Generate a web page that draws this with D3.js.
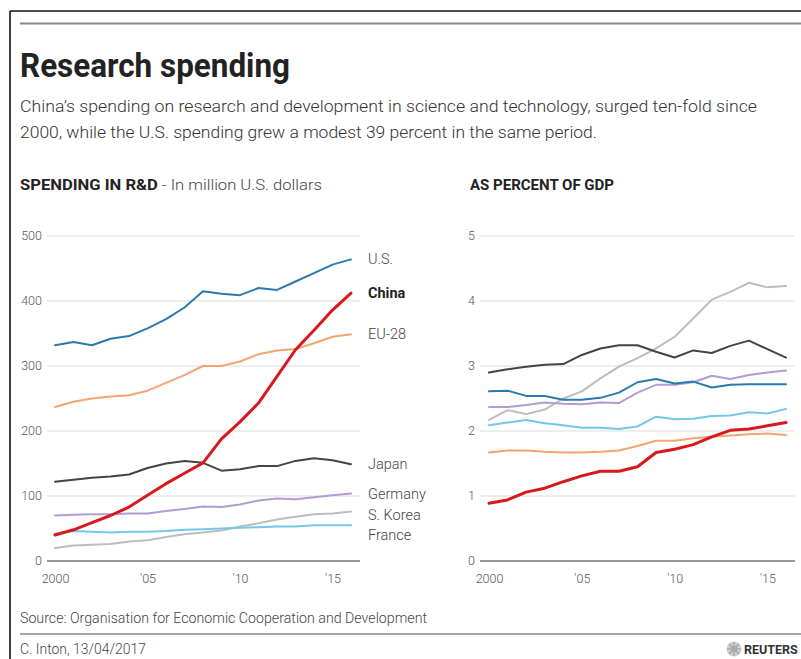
<!DOCTYPE html>
<html><head><meta charset="utf-8">
<script src="https://cdn.jsdelivr.net/npm/d3@7/dist/d3.min.js"></script>
<style>
html,body{margin:0;padding:0;background:#fff;}
svg{display:block;font-family:Roboto,"Open Sans",sans-serif;}
</style></head>
<body><svg id="c" width="801" height="659"></svg>
<script>
const years = [2000,2001,2002,2003,2004,2005,2006,2007,2008,2009,2010,2011,2012,2013,2014,2015,2016];
const tickYears = [2000,2005,2010,2015];
const tickYearLabels = ["2000","'05","'10","'15"];
const spendTicks = [0,100,200,300,400,500];
const gdpTicks = [0,1,2,3,4,5];
const seriesNames = ["S. Korea","France","Germany","Japan","EU-28","U.S.","China"];
const seriesColors = ["#bdbdbd","#74c6ea","#b39bd6","#444444","#f4a472","#2a7aab","#d7191c"];

// spending, million U.S. dollars
const spendSKorea = [20,24,25,26,30,32,37,41,44,47,53,58,64,68,72,73,76];
const spendFrance = [42,46,45,44,45,45,46,48,49,50,51,52,53,53,55,55,55];
const spendGermany = [70,71,72,72,73,73,77,80,84,83,87,93,96,95,98,101,104];
const spendJapan = [122,125,128,130,133,143,150,154,151,139,141,146,146,154,158,155,149];
const spendEU = [237,245,250,253,255,262,274,286,300,300,307,318,324,326,335,345,349];
const spendUS = [332,337,332,342,346,358,372,390,415,411,409,420,417,430,443,456,464];
const spendChina = [40,48,59,70,83,101,119,135,151,188,214,243,284,325,355,386,412];

// as percent of GDP
const gdpSKorea = [2.17,2.32,2.26,2.33,2.50,2.61,2.81,2.99,3.12,3.27,3.45,3.73,4.02,4.14,4.28,4.21,4.23];
const gdpFrance = [2.09,2.13,2.17,2.12,2.09,2.05,2.05,2.03,2.07,2.22,2.18,2.19,2.23,2.24,2.29,2.27,2.34];
const gdpGermany = [2.37,2.37,2.40,2.44,2.42,2.41,2.44,2.43,2.59,2.71,2.71,2.75,2.85,2.80,2.86,2.90,2.93];
const gdpJapan = [2.90,2.95,2.99,3.02,3.03,3.17,3.27,3.32,3.32,3.22,3.13,3.24,3.20,3.31,3.39,3.26,3.13];
const gdpEU = [1.67,1.70,1.70,1.68,1.67,1.67,1.68,1.70,1.77,1.85,1.85,1.89,1.91,1.93,1.95,1.96,1.94];
const gdpUS = [2.61,2.62,2.54,2.54,2.48,2.48,2.51,2.59,2.75,2.80,2.73,2.76,2.67,2.71,2.72,2.72,2.72];
const gdpChina = [0.89,0.94,1.06,1.12,1.22,1.31,1.38,1.38,1.45,1.67,1.72,1.79,1.91,2.01,2.03,2.08,2.13];

// series labels on the left chart, with their label values
const labelNames = ["U.S.","China","EU-28","Japan","Germany","S. Korea","France"];
const labelValues = [464,412,349,149,103,71,40];

const spendSeries = [spendSKorea,spendFrance,spendGermany,spendJapan,spendEU,spendUS,spendChina];
const gdpSeries = [gdpSKorea,gdpFrance,gdpGermany,gdpJapan,gdpEU,gdpUS,gdpChina];

const svg = d3.select("#c");

// frame
svg.append("line").attr("x1",10).attr("x2",801).attr("y1",11).attr("y2",11).attr("stroke","#111").attr("stroke-width",1.6);
svg.append("line").attr("x1",10).attr("x2",10).attr("y1",11).attr("y2",659).attr("stroke","#111").attr("stroke-width",1.6);
svg.append("line").attr("x1",20).attr("x2",801).attr("y1",23.5).attr("y2",23.5).attr("stroke","#8a8a8a").attr("stroke-width",2);
svg.append("line").attr("x1",20).attr("x2",801).attr("y1",634).attr("y2",634).attr("stroke","#8a8a8a").attr("stroke-width",1.6);

// titles
svg.append("text").attr("x",20).attr("y",77).attr("font-size",33).attr("font-weight",700).attr("fill","#222")
  .attr("textLength",270).attr("lengthAdjust","spacingAndGlyphs").text("Research spending");
svg.append("text").attr("x",20).attr("y",112).attr("font-size",17).attr("font-weight",300).attr("fill","#333")
  .attr("textLength",737).attr("lengthAdjust","spacingAndGlyphs")
  .text("China’s spending on research and development in science and technology, surged ten-fold since");
svg.append("text").attr("x",20).attr("y",138).attr("font-size",17).attr("font-weight",300).attr("fill","#333")
  .attr("textLength",577).attr("lengthAdjust","spacingAndGlyphs")
  .text("2000, while the U.S. spending grew a modest 39 percent in the same period.");

const h1 = svg.append("text").attr("x",20).attr("y",190).attr("font-size",14.5).attr("fill","#222")
  .attr("textLength",302).attr("lengthAdjust","spacingAndGlyphs");
h1.append("tspan").attr("font-weight",700).text("SPENDING IN R&D");
h1.append("tspan").attr("font-weight",300).attr("fill","#444").text(" - In million U.S. dollars");
svg.append("text").attr("x",470).attr("y",190).attr("font-size",14.5).attr("font-weight",700).attr("fill","#222")
  .attr("textLength",144).attr("lengthAdjust","spacingAndGlyphs").text("AS PERCENT OF GDP");

// footer
svg.append("text").attr("x",20).attr("y",623).attr("font-size",14.5).attr("font-weight",300).attr("fill","#444")
  .attr("textLength",407).attr("lengthAdjust","spacingAndGlyphs")
  .text("Source: Organisation for Economic Cooperation and Development");
svg.append("text").attr("x",20).attr("y",654).attr("font-size",14.5).attr("font-weight",300).attr("fill","#444")
  .attr("textLength",126).attr("lengthAdjust","spacingAndGlyphs").text("C. Inton, 13/04/2017");
// reuters logo
const logo = svg.append("g").attr("transform","translate(734,649)");
logo.append("circle").attr("r",7.5).attr("fill","#cfcfcf");
[0,45,90,135].forEach(a=>{
  logo.append("line").attr("x1",-7).attr("x2",7).attr("y1",0).attr("y2",0)
    .attr("transform","rotate("+a+")").attr("stroke","#999").attr("stroke-width",1);
});
logo.append("circle").attr("r",3).attr("fill","#aaa");
svg.append("text").attr("x",744).attr("y",654).attr("font-size",12.5).attr("font-weight",700).attr("fill","#333")
  .text("REUTERS");

function panel(opts){
  const x = d3.scaleLinear().domain([2000,2016]).range([opts.x0,opts.x1]);
  const y = d3.scaleLinear().domain([0,opts.max]).range([561,236]);
  const g = svg.append("g");
  // gridlines
  g.selectAll("line.grid").data(opts.ticks.slice(1)).join("line")
    .attr("x1",opts.g0).attr("x2",opts.g1).attr("y1",d=>y(d)).attr("y2",d=>y(d))
    .attr("stroke","#dedede").attr("stroke-width",1.2);
  g.append("line").attr("x1",opts.g0).attr("x2",opts.g1).attr("y1",y(0)).attr("y2",y(0))
    .attr("stroke","#9a9a9a").attr("stroke-width",1.8);
  // y tick labels
  g.selectAll("text.yt").data(opts.ticks).join("text")
    .attr("x",opts.g0-5).attr("y",d=>y(d)+4).attr("text-anchor","end")
    .attr("font-size",12.5).attr("font-weight",300).attr("fill","#555").text(d=>d);
  // x axis labels
  const xa = d3.axisBottom(x).tickValues(tickYears).tickSize(0).tickPadding(0)
    .tickFormat((d,i)=>tickYearLabels[i]);
  const ax = g.append("g").attr("transform","translate(0,574)").call(xa);
  ax.select(".domain").remove();
  ax.selectAll("text").attr("font-size",12.5).attr("font-weight",300).attr("fill","#555")
    .attr("font-family","Roboto,sans-serif");
  // lines
  const line = d3.line().x((d,i)=>x(years[i])).y(d=>y(d));
  opts.series.forEach((s,k)=>{
    g.append("path").datum(s).attr("d",line).attr("fill","none")
      .attr("stroke",seriesColors[k]).attr("stroke-width",seriesNames[k]==="China"?3:2)
      .attr("stroke-linejoin","round").attr("stroke-linecap","round");
  });
  return {x,y};
}

const left = panel({x0:55,x1:351,g0:47,g1:360,max:500,ticks:spendTicks,series:spendSeries});
panel({x0:489,x1:786,g0:480,g1:795,max:5,ticks:gdpTicks,series:gdpSeries});

// series labels
svg.selectAll("text.lab").data(labelNames).join("text")
  .attr("x",368).attr("y",(d,i)=>left.y(labelValues[i])+5)
  .attr("font-size",14.5).attr("font-weight",(d)=>d==="China"?700:300)
  .attr("fill",d=>d==="China"?"#222":"#444").text(d=>d);
</script></body></html>
